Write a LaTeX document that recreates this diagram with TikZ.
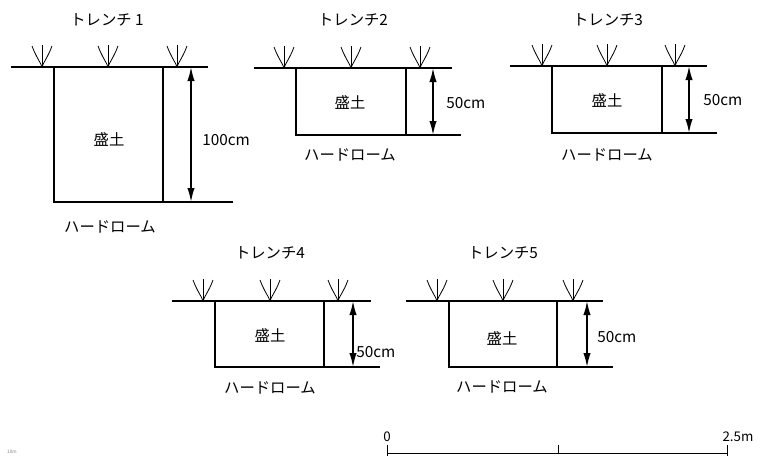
\documentclass[tikz,border=0pt]{standalone}
\usepackage{fontspec}
\setmainfont{Noto Sans CJK JP}
\usetikzlibrary{arrows.meta}

\tikzset{
  ground/.style={line width=2pt},
  pitwall/.style={line width=1.5pt},
  hardline/.style={line width=1.2pt},
  depthbar/.style={line width=1.2pt,{Latex[length=10.5pt,width=5.5pt]}-{Latex[length=10.5pt,width=5.5pt]}},
  jp/.style={inner sep=0.75pt,font=\fontsize{11.5}{13}\selectfont},
  sprout/.pic={
    \draw [line width=0.6pt] (0,22) -- (0,0) ;
    \draw [line width=0.6pt] (-10,21) .. controls (-6,10) and (-1,4) .. (0,0) ;
    \draw [line width=0.6pt] (10,21) .. controls (6,10) and (1,4) .. (0,0) ;
  }
}

\begin{document}
\begin{tikzpicture}[x=0.75pt,y=0.75pt,yscale=-1,xscale=1]
\path [use as bounding box] (0,0) rectangle (763,457); %set diagram size 763 x 457

%%% Trench 1
%Straight Lines [ground]
\draw [ground] (11,67) -- (208,67) ;
%Shape: Rectangle [pit]
\draw [pitwall] (54,67) -- (54,202) -- (163,202) -- (163,67) ;
%Straight Lines [hard loam]
\draw [hardline] (163,202) -- (233,202) ;
%Sprouts
\pic at (42,67) {sprout};
\pic at (108,67) {sprout};
\pic at (177,67) {sprout};
%Depth arrow
\coordinate (t1top) at (191,67);
\coordinate (t1bot) at (191,202);
\draw [depthbar] (t1top) -- (t1bot) ;
% Text Node
\draw (107,20) node [jp] (t1title) {トレンチ 1};
% Text Node
\draw (109,140) node [jp] (t1fill) {盛土};
% Text Node
\draw (201,140) node [jp,anchor=west] (t1depth) {100cm};
% Text Node
\draw (110,227) node [jp] (t1hard) {ハードローム};

%%% Trench 2
%Straight Lines [ground]
\draw [ground] (254,68) -- (452,68) ;
%Shape: Rectangle [pit]
\draw [pitwall] (296,68) -- (296,135) -- (406,135) -- (406,68) ;
%Straight Lines [hard loam]
\draw [hardline] (406,135) -- (461,135) ;
%Sprouts
\pic at (284,68) {sprout};
\pic at (351,68) {sprout};
\pic at (420,68) {sprout};
%Depth arrow
\coordinate (t2top) at (433,68);
\coordinate (t2bot) at (433,135);
\draw [depthbar] (t2top) -- (t2bot) ;
% Text Node
\draw (353,20) node [jp] (t2title) {トレンチ2};
% Text Node
\draw (350,103) node [jp] (t2fill) {盛土};
% Text Node
\draw (445,103) node [jp,anchor=west] (t2depth) {50cm};
% Text Node
\draw (350,155) node [jp] (t2hard) {ハードローム};

%%% Trench 3
%Straight Lines [ground]
\draw [ground] (510,66) -- (707,66) ;
%Shape: Rectangle [pit]
\draw [pitwall] (552,66) -- (552,133) -- (662,133) -- (662,66) ;
%Straight Lines [hard loam]
\draw [hardline] (662,133) -- (717,133) ;
%Sprouts
\pic at (542,66) {sprout};
\pic at (607,66) {sprout};
\pic at (675,66) {sprout};
%Depth arrow
\coordinate (t3top) at (689,66);
\coordinate (t3bot) at (689,133);
\draw [depthbar] (t3top) -- (t3bot) ;
% Text Node
\draw (608,20) node [jp] (t3title) {トレンチ3};
% Text Node
\draw (607,101) node [jp] (t3fill) {盛土};
% Text Node
\draw (702,100) node [jp,anchor=west] (t3depth) {50cm};
% Text Node
\draw (607,155) node [jp] (t3hard) {ハードローム};

%%% Trench 4
%Straight Lines [ground]
\draw [ground] (172,301) -- (371,301) ;
%Shape: Rectangle [pit]
\draw [pitwall] (215,301) -- (215,367) -- (324,367) -- (324,301) ;
%Straight Lines [hard loam]
\draw [hardline] (324,367) -- (380,367) ;
%Sprouts
\pic at (203,301) {sprout};
\pic at (270,301) {sprout};
\pic at (338,301) {sprout};
%Depth arrow
\coordinate (t4top) at (353,301);
\coordinate (t4bot) at (353,367);
\draw [depthbar] (t4top) -- (t4bot) ;
% Text Node
\draw (270,253) node [jp] (t4title) {トレンチ4};
% Text Node
\draw (270,335) node [jp] (t4fill) {盛土};
% Text Node
\draw (355,352) node [jp,anchor=west] (t4depth) {50cm};
% Text Node
\draw (270,388) node [jp] (t4hard) {ハードローム};

%%% Trench 5
%Straight Lines [ground]
\draw [ground] (406,301) -- (603,301) ;
%Shape: Rectangle [pit]
\draw [pitwall] (449,301) -- (449,367) -- (557,367) -- (557,301) ;
%Straight Lines [hard loam]
\draw [hardline] (557,367) -- (613,367) ;
%Sprouts
\pic at (437,301) {sprout};
\pic at (503,301) {sprout};
\pic at (573,301) {sprout};
%Depth arrow
\coordinate (t5top) at (587,301);
\coordinate (t5bot) at (587,367);
\draw [depthbar] (t5top) -- (t5bot) ;
% Text Node
\draw (503,253) node [jp] (t5title) {トレンチ5};
% Text Node
\draw (502,338) node [jp] (t5fill) {盛土};
% Text Node
\draw (596,337) node [jp,anchor=west] (t5depth) {50cm};
% Text Node
\draw (502,387) node [jp] (t5hard) {ハードローム};

%%% Scale bar
\coordinate (sb0) at (387,453);
\coordinate (sbmid) at (558,453);
\coordinate (sb1) at (727,453);
\draw [line width=0.6pt] (sb0) -- (sb1) ;
\draw [line width=0.6pt] (387,445) -- (387,456) ;
\draw [line width=0.6pt] (558,445) -- (sbmid) ;
\draw [line width=0.6pt] (727,445) -- (727,456) ;
% Text Node
\draw (387,437) node [inner sep=0.75pt,font=\fontsize{10}{12}\selectfont] (sbzero) {0};
% Text Node
\draw (738,437) node [inner sep=0.75pt,font=\fontsize{10}{12}\selectfont] (sbend) {2.5m};
% Text Node
\draw (12,452) node [inner sep=0.5pt,font=\fontsize{3.5}{4}\selectfont,color=gray] (tiny) {10m};

\end{tikzpicture}
\end{document}
